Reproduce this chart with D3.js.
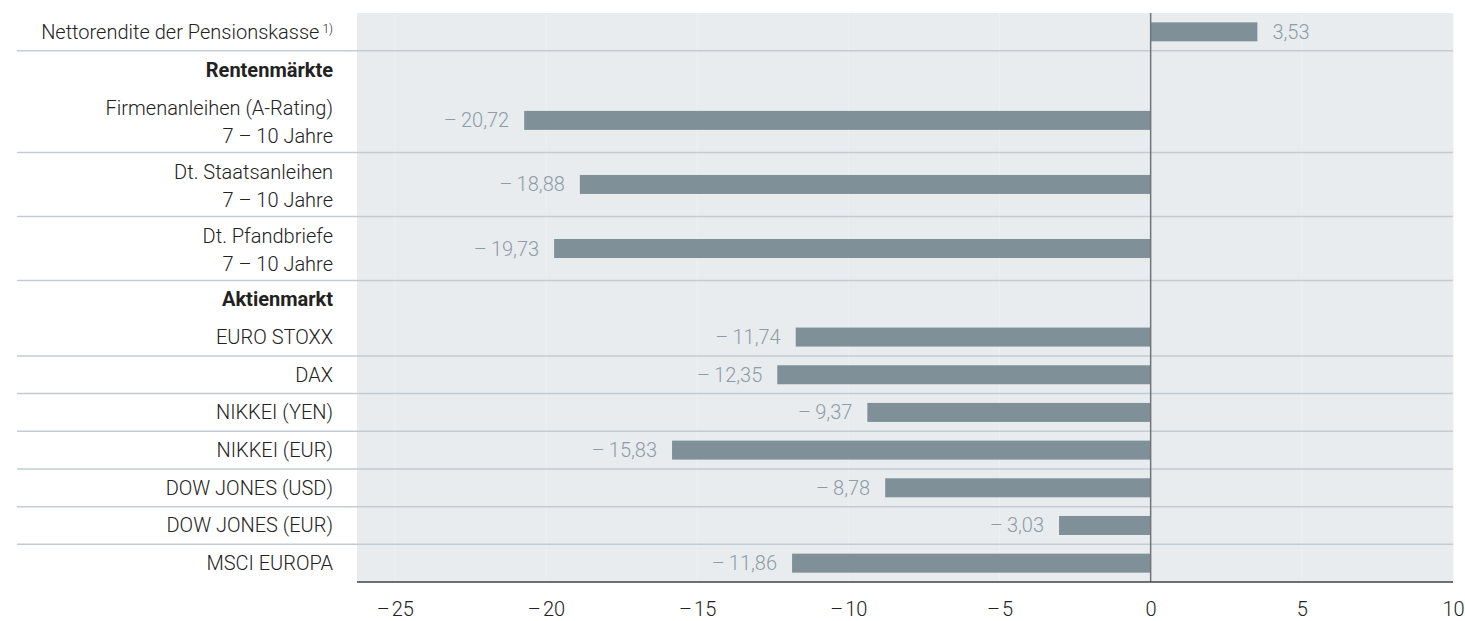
<!DOCTYPE html>
<html><head><meta charset="utf-8">
<script src="https://cdn.jsdelivr.net/npm/d3@7"></script>
<style>
html,body{margin:0;padding:0;background:#fff;}
svg{display:block;font-family:Roboto, "Open Sans", sans-serif;}
</style></head>
<body><svg id="c" width="1465" height="621"></svg>
<script>
// Row definitions (label lines, type, value)
const labels = [
  ["Nettorendite der Pensionskasse"],
  ["Rentenmärkte"],
  ["Firmenanleihen (A-Rating)", "7 – 10 Jahre"],
  ["Dt. Staatsanleihen", "7 – 10 Jahre"],
  ["Dt. Pfandbriefe", "7 – 10 Jahre"],
  ["Aktienmarkt"],
  ["EURO STOXX"],
  ["DAX"],
  ["NIKKEI (YEN)"],
  ["NIKKEI (EUR)"],
  ["DOW JONES (USD)"],
  ["DOW JONES (EUR)"],
  ["MSCI EUROPA"]
];
const rowTypes = ["item","header","item","item","item","header","item","item","item","item","item","item","item"];
const values = [3.53, null, -20.72, -18.88, -19.73, null, -11.74, -12.35, -9.37, -15.83, -8.78, -3.03, -11.86];
const footnotes = ["1)", "", "", "", "", "", "", "", "", "", "", "", ""];
const tickValues = [-25, -20, -15, -10, -5, 0, 5, 10];

const svg = d3.select("#c");
const pLeft = 357, pRight = 1453, pTop = 13, pBottom = 582;
const x = d3.scaleLinear().domain([-26.25, 10]).range([pLeft, pRight]);
const FS = 20;

// row heights in units
const units = labels.map(l => l.length > 1 ? 1.7 : 1);
const total = d3.sum(units);
const uh = (pBottom - pTop) / total;
let acc = pTop;
const rows = labels.map((l, i) => {
  const h = units[i] * uh;
  const r = {lines: l, type: rowTypes[i], value: values[i], fn: footnotes[i], y0: acc, h: h, cy: acc + h / 2};
  acc += h;
  return r;
});

// background
svg.append("rect").attr("x", pLeft).attr("y", pTop).attr("width", pRight - pLeft).attr("height", pBottom - pTop).attr("fill", "#e8ecef");

// subtle vertical grid
svg.append("g").selectAll("line").data(tickValues.filter(t => t !== 0)).join("line")
  .attr("x1", d => x(d)).attr("x2", d => x(d)).attr("y1", pTop).attr("y2", pBottom)
  .attr("stroke", "#edf0f3").attr("stroke-width", 1);

// separators
rows.forEach((r, i) => {
  if (i === rows.length - 1) return;
  if (r.type === "header") return;
  svg.append("line").attr("x1", 17).attr("x2", pRight)
    .attr("y1", r.y0 + r.h).attr("y2", r.y0 + r.h)
    .attr("stroke", "#c3ccd2").attr("stroke-width", 1.5);
});

// bars
const barH = 19;
const bars = rows.filter(r => r.value !== null);
svg.append("g").selectAll("rect").data(bars).join("rect")
  .attr("x", d => Math.min(x(0), x(d.value)))
  .attr("width", d => Math.abs(x(d.value) - x(0)))
  .attr("y", d => d.cy - barH / 2).attr("height", barH)
  .attr("fill", "#7f9099");

const fmt = v => (v < 0 ? "\u2013\u2009" : "") + d3.format(".2f")(Math.abs(v)).replace(".", ",");

svg.append("g").selectAll("text").data(bars).join("text")
  .attr("x", d => d.value < 0 ? x(d.value) - 15 : x(d.value) + 15)
  .attr("y", d => d.cy).attr("dy", "0.35em")
  .attr("text-anchor", d => d.value < 0 ? "end" : "start")
  .attr("fill", "#8e9ca4").attr("font-size", FS).attr("font-weight", 300)
  .text(d => fmt(d.value));

// zero line
svg.append("line").attr("x1", x(0)).attr("x2", x(0)).attr("y1", pTop).attr("y2", pBottom)
  .attr("stroke", "#6d767c").attr("stroke-width", 1.5);

// category labels
const lab = svg.append("g");
rows.forEach(r => {
  const n = r.lines.length;
  const lh = 27.5;
  r.lines.forEach((line, j) => {
    const t = lab.append("text").attr("x", 333)
      .attr("y", r.cy + (n > 1 ? 1.5 : 0) + (j - (n - 1) / 2) * lh).attr("dy", "0.35em")
      .attr("text-anchor", "end").attr("fill", "#222")
      .attr("font-size", FS)
      .attr("font-weight", r.type === "header" ? 700 : 300);
    t.append("tspan").text(line);
    if (r.fn && j === n - 1) {
      t.append("tspan").attr("dx", 3).attr("dy", "-0.45em").attr("font-size", 12).text(r.fn);
    }
  });
});

// x axis
const axis = d3.axisBottom(x).tickValues(tickValues).tickSize(0).tickPadding(20)
  .tickFormat(d => (d < 0 ? "\u2013\u200a" + Math.abs(d) : String(d)));
const ag = svg.append("g").attr("transform", `translate(0,${pBottom})`).call(axis);
ag.select(".domain").remove();
ag.append("line").attr("x1", pLeft).attr("x2", pRight).attr("y1", 0).attr("y2", 0)
  .attr("stroke", "#3d4448").attr("stroke-width", 1.5);
ag.selectAll(".tick text").attr("font-size", FS).attr("font-weight", 300).attr("fill", "#222")
  .attr("font-family", "Roboto, sans-serif");
</script></body></html>
